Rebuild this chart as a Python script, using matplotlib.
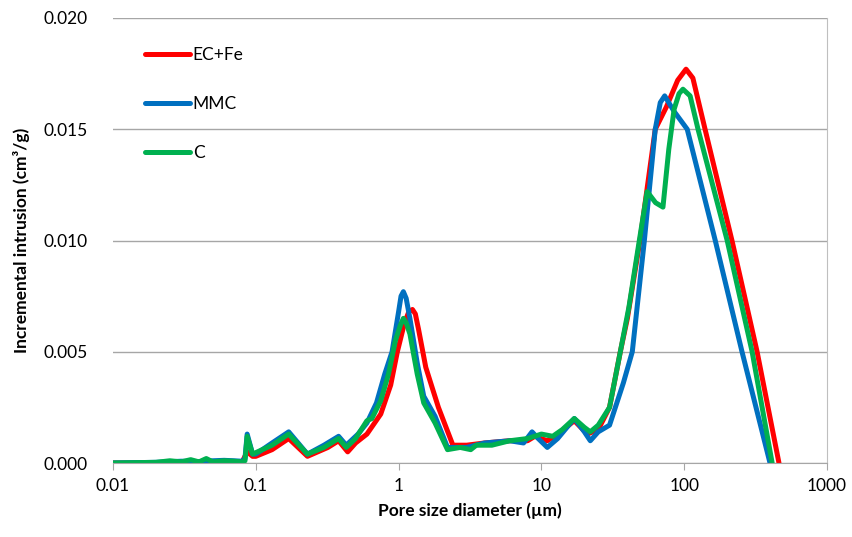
import matplotlib.pyplot as plt
import numpy as np

plt.rcParams['font.family'] = ['Lato', 'DejaVu Sans']

# EC+Fe
x_ecfe = [0.01, 0.02, 0.03, 0.04, 0.05, 0.06, 0.07, 0.08, 0.087, 0.095, 0.1, 0.13, 0.17,
          0.23, 0.32, 0.38, 0.44, 0.5, 0.6, 0.75, 0.88, 0.98, 1.1, 1.18, 1.25, 1.31, 1.38,
          1.55, 1.9, 2.4, 3, 4, 6, 8, 9, 11, 13, 17, 21, 25, 30, 35.7, 40, 49, 62.7, 75,
          90, 103, 115, 140, 216, 324, 461]
y_ecfe = [0.0, 0.0, 0.00003, 0.00005, 0.00005, 0.00005, 0.00005, 0.00003, 0.0005, 0.0003,
          0.0003, 0.0006, 0.0011, 0.0003, 0.0007, 0.0010, 0.0005, 0.0009, 0.0013, 0.0022,
          0.0035, 0.0050, 0.0063, 0.0068, 0.0069, 0.0067, 0.0060, 0.0043, 0.0025, 0.0008,
          0.0008, 0.0009, 0.0010, 0.0010, 0.0012, 0.0010, 0.0013, 0.0019, 0.0013, 0.0015,
          0.0025, 0.0050, 0.0065, 0.0100, 0.0150, 0.0160, 0.0172, 0.0177, 0.0173, 0.0150,
          0.0100, 0.0050, 0.0]

# MMC
x_mmc = [0.01, 0.02, 0.03, 0.04, 0.05, 0.06, 0.07, 0.08, 0.084, 0.087, 0.095, 0.1, 0.13,
         0.17, 0.23, 0.3, 0.38, 0.43, 0.52, 0.6, 0.7, 0.8, 0.9, 1.0, 1.04, 1.08, 1.13, 1.2,
         1.35, 1.5, 1.8, 2.2, 3, 4, 6, 7.5, 8.6, 9.5, 11, 13, 17, 20, 22, 25, 30, 37.5,
         43.3, 52.6, 62.7, 68, 73, 85, 105, 165, 254, 399]
y_mmc = [0.0, 0.00003, 0.00008, 0.00006, 0.0001, 0.00012, 0.0001, 0.00008, 0.0002, 0.0013,
         0.0004, 0.0004, 0.0009, 0.0014, 0.0004, 0.0008, 0.0012, 0.0008, 0.0013, 0.0018,
         0.0027, 0.0040, 0.0050, 0.0068, 0.0075, 0.0077, 0.0074, 0.0065, 0.0045, 0.0030,
         0.0021, 0.0007, 0.0007, 0.0009, 0.0010, 0.0009, 0.0014, 0.0011, 0.0007, 0.0011,
         0.0020, 0.0014, 0.0010, 0.0014, 0.0017, 0.0036, 0.0050, 0.0100, 0.0150, 0.0162,
         0.0165, 0.0158, 0.0150, 0.0100, 0.0050, 0.0]

# C
x_c = [0.01, 0.02, 0.025, 0.03, 0.035, 0.04, 0.045, 0.05, 0.06, 0.07, 0.08, 0.084, 0.087,
       0.095, 0.13, 0.17, 0.23, 0.3, 0.38, 0.43, 0.5, 0.6, 0.65, 0.75, 0.85, 0.95, 1.03,
       1.08, 1.13, 1.2, 1.35, 1.5, 1.8, 2.2, 2.7, 3.2, 3.5, 4.5, 6, 8, 10, 12, 14, 17, 20,
       22, 25, 30, 35.7, 41, 48.5, 55, 63, 71, 78, 85, 92, 98, 110, 125, 200, 299, 413]
y_c = [0.0, 0.00003, 0.0001, 0.00005, 0.00015, 0.00005, 0.0002, 0.00005, 0.0001, 0.00008,
       0.00005, 0.0001, 0.0012, 0.0004, 0.0008, 0.0013, 0.0004, 0.0007, 0.0011, 0.0007,
       0.0011, 0.0019, 0.0020, 0.0028, 0.0040, 0.0055, 0.0062, 0.0065, 0.0063, 0.0058,
       0.0040, 0.0027, 0.0018, 0.0006, 0.0007, 0.0006, 0.0008, 0.0008, 0.0010, 0.0011,
       0.0013, 0.0012, 0.0015, 0.0020, 0.0016, 0.0014, 0.0017, 0.0025, 0.0050, 0.0070,
       0.0100, 0.0122, 0.0117, 0.0115, 0.0141, 0.0159, 0.0166, 0.0168, 0.0165, 0.0150,
       0.0100, 0.0050, 0.0]

fig = plt.figure(figsize=(8.53, 5.37), dpi=100)
ax = fig.add_axes([113 / 853, 1 - 463 / 537, 714 / 853, 445 / 537])

lw = 3.6
style = dict(lw=lw, solid_joinstyle='round', solid_capstyle='round')
ax.plot(x_ecfe, y_ecfe, color='#ff0000', label='EC+Fe', **style)
ax.plot(x_mmc, y_mmc, color='#0070c0', label='MMC', **style)
ax.plot(x_c, y_c, color='#00b050', label='C', **style)

ax.set_xscale('log')
ax.set_xlim(0.01, 1000)
ax.set_ylim(0, 0.02)
ax.set_xticks([0.01, 0.1, 1, 10, 100, 1000])
ax.set_xticklabels(['0.01', '0.1', '1', '10', '100', '1000'])
ax.minorticks_off()
ax.set_yticks([0, 0.005, 0.01, 0.015, 0.02])
ax.set_yticklabels(['0.000', '0.005', '0.010', '0.015', '0.020'])
ax.yaxis.grid(True, color='#a6a6a6', lw=1)
ax.set_axisbelow(True)

for s in ['top', 'left']:
    ax.spines[s].set_visible(False)
ax.spines['right'].set_color('#bfbfbf')
ax.spines['bottom'].set_color('#a6a6a6')
ax.tick_params(axis='x', direction='out', length=5, color='#a6a6a6', labelsize=12.5, pad=6)
ax.tick_params(axis='y', length=0, labelsize=12.5, pad=18)

ax.set_xlabel('Pore size diameter (µm)', fontsize=12.5, fontweight='bold', labelpad=6)
ax.set_ylabel('Incremental intrusion (cm³/g)', fontsize=12.5, fontweight='bold', labelpad=10)

ax.legend(loc='upper left', bbox_to_anchor=(0.045, 0.935), frameon=False, fontsize=12.5,
          handlelength=2.6, handletextpad=0.15, labelspacing=1.9, borderpad=0, borderaxespad=0)

fig.savefig('out.png', dpi=100)
